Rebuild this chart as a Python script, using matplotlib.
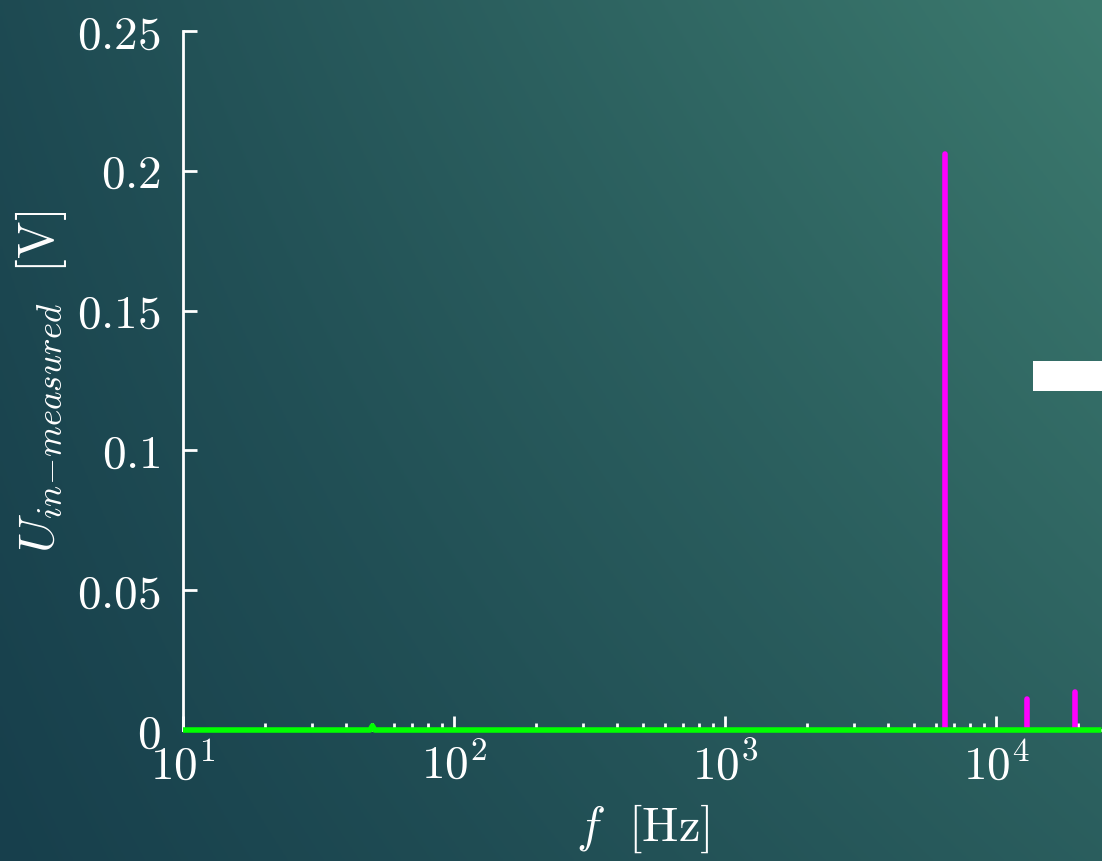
import matplotlib
matplotlib.use("Agg")
import matplotlib.pyplot as plt
import numpy as np
from matplotlib.patches import Rectangle
from matplotlib.ticker import FuncFormatter, LogLocator, FixedLocator

plt.rcParams['mathtext.fontset'] = 'cm'
plt.rcParams['font.family'] = 'serif'
plt.rcParams['font.serif'] = ['cmr10', 'DejaVu Serif']
plt.rcParams['axes.formatter.use_mathtext'] = True

# measured spectrum (green) and the harmonic peaks (magenta)
spec_freq = [10, 45, 49, 50, 51, 55, 1000, 6400, 6500, 6600, 24500]
spec_amp = [0.0, 0.0, 0.0, 0.0015, 0.0, 0.0, 0.0, 0.0, 0.0, 0.0, 0.0]
peak_freq = [6500, 13000, 19500]
peak_amp = [0.206, 0.0111, 0.0136]
y_ticks = [0, 0.05, 0.1, 0.15, 0.2, 0.25]
y_labels = ['0', '0.05', '0.1', '0.15', '0.2', '0.25']

fig = plt.figure(figsize=(11.02, 8.62), dpi=100)

# gradient background
bg = fig.add_axes([0, 0, 1, 1], zorder=-10)
gx, gy = np.meshgrid(np.linspace(0, 1, 300), np.linspace(0, 1, 300))
t = np.clip(0.52 * gx + 0.19 * gy + 0.29 * gx * gy, 0, 1)
c0 = np.array([23, 63, 76]) / 255
c1 = np.array([60, 122, 110]) / 255
img = c0[None, None, :] + (c1 - c0)[None, None, :] * t[..., None]
bg.imshow(img, origin='lower', extent=[0, 1, 0, 1], aspect='auto')
bg.axis('off')

ax = fig.add_axes([183 / 1102, 131 / 862, 1 - 183 / 1102, 699 / 862])
ax.patch.set_alpha(0)

ax.plot(spec_freq, spec_amp, color='#00ff00', lw=4, zorder=3, solid_capstyle='butt', clip_on=False)
for f, a in zip(peak_freq, peak_amp):
    ax.plot([f, f], [0, a], color='#ff00ff', lw=4, solid_capstyle='round', zorder=2)

ax.set_xscale('log')
ax.set_xlim(10, 10 ** (1 + 919 / 271))
ax.set_ylim(0, 0.25)

ax.xaxis.set_major_locator(FixedLocator([10, 100, 1000, 10000]))
ax.xaxis.set_minor_locator(LogLocator(base=10, subs=np.arange(2, 10)))
ax.xaxis.set_major_formatter(FuncFormatter(lambda v, p: r'$10^{%d}$' % round(np.log10(v))))
ax.set_yticks(y_ticks)
ax.set_yticklabels(['$' + s + '$' for s in y_labels])

for s in ['top', 'right']:
    ax.spines[s].set_visible(False)
for s in ['left', 'bottom']:
    ax.spines[s].set_color('white')
    ax.spines[s].set_linewidth(2)

ax.tick_params(which='major', direction='in', length=10, width=2, color='white',
               labelcolor='white', labelsize=34)
ax.tick_params(which='minor', direction='in', length=5, width=2, color='white')
ax.tick_params(axis='y', which='major', pad=16)
ax.tick_params(axis='x', which='major', pad=8)

ax.set_xlabel(r'$f\ \ [\mathrm{Hz}]$', color='white', fontsize=35, labelpad=10)
ax.set_ylabel(r'$U_{in\!-\!measured}\ \ [\mathrm{V}]$', color='white', fontsize=36, labelpad=6)

# cut-off legend box on the right edge
ax.add_patch(Rectangle((1033 / 1102, 470 / 862), 0.1, 30 / 862, transform=fig.transFigure,
                       facecolor='white', edgecolor='none', zorder=5, clip_on=False))

fig.savefig('out.png', dpi=100)
